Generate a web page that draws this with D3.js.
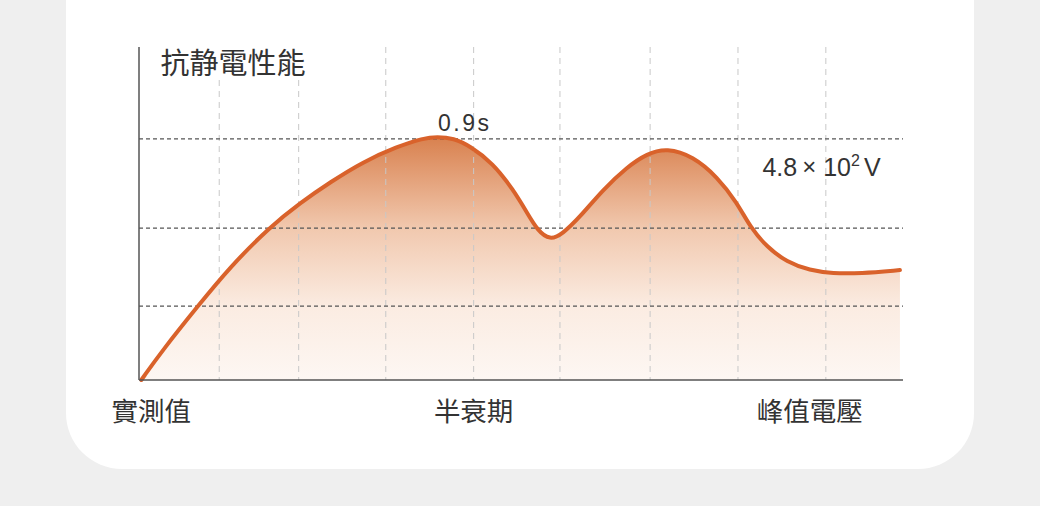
<!DOCTYPE html>
<html>
<head>
<meta charset="utf-8">
<script src="https://cdn.jsdelivr.net/npm/d3@7/dist/d3.min.js"></script>
<style>
  html, body { margin: 0; padding: 0; background: #efefef; }
  svg { display: block; }
  text { font-family: "Noto Sans CJK TC", "Noto Sans", sans-serif; fill: #333; }
  .num { font-family: "Liberation Sans", Arial, sans-serif; fill: #333; }
</style>
</head>
<body>
<div id="chart"></div>
<script>
var width = 1040, height = 506;

// curve (x: 0-100 along the axis, y: 0-100 up the axis)
var curveX = [0.3, 3.1, 7.6, 11.9, 17.1, 21.1, 25.1, 29.3, 33.8, 37.2, 39.0, 41.2, 43.3, 46.3, 49.0, 50.8, 52.2, 53.8,
              55.4, 57.7, 60.7, 63.9, 66.5, 69.1, 72.5, 75.7, 78.3, 80.0, 82.2, 84.8, 87.8, 90.8, 94.4, 99.6];
var curveY = [0, 9.0, 21.9, 33.9, 45.9, 53.2, 59.5, 65.5, 70.1, 72.6, 73.1, 72.6, 70.3, 65.2, 57.1, 50.2, 44.8, 42.0,
              43.8, 48.9, 57.1, 64.0, 68.0, 69.7, 67.2, 61.0, 53.2, 45.9, 39.9, 35.4, 32.9, 32.0, 32.0, 33.0];

// grid lines
var gridX = [10.5, 20.9, 32.3, 43.8, 55.1, 66.9, 78.4, 89.9];
var gridY = [22.2, 45.6, 72.4];

// labels
var title = "抗静電性能";
var bottomLabels = ["實測值", "半衰期", "峰值電壓"];
var bottomLabelX = [1.6, 43.8, 87.8];
var peakLabel = "0.9s";
var peakX = 39.0;
var voltLabel = ["4.8", "×", "10", "2", "V"];

var margin = {left: 139, right: 137, top: 47, bottom: 126};

var svg = d3.select('#chart').append('svg')
    .attr('width', width)
    .attr('height', height);

// white card
svg.append("rect")
    .attr("x", 66).attr("y", -60)
    .attr("width", 908).attr("height", 529)
    .attr("rx", 56).attr("ry", 56)
    .attr("fill", "#fff");

var x = d3.scaleLinear().domain([0, 100]).range([margin.left, width - margin.right]);
var y = d3.scaleLinear().domain([0, 100]).range([height - margin.bottom, margin.top]);

var defs = svg.append("defs");
var grad = defs.append("linearGradient")
    .attr("id", "fillGrad")
    .attr("gradientUnits", "userSpaceOnUse")
    .attr("x1", 0).attr("y1", y(72.5))
    .attr("x2", 0).attr("y2", y(0));
grad.append("stop").attr("offset", 0).attr("stop-color", "#d98250");
grad.append("stop").attr("offset", 0.37).attr("stop-color", "#f1c8ae");
grad.append("stop").attr("offset", 0.7).attr("stop-color", "#fbece2");
grad.append("stop").attr("offset", 1).attr("stop-color", "#fdf7f3");

var pts = curveX.map(function(d, i) { return [d, curveY[i]]; });
var crv = d3.curveBasis;

// area fill
svg.append("path")
    .datum(pts)
    .attr("fill", "url(#fillGrad)")
    .attr("d", d3.area()
        .x(function(d) { return x(d[0]); })
        .y0(y(0))
        .y1(function(d) { return y(d[1]); })
        .curve(crv));

// vertical dashed grid
svg.append("g").selectAll("line")
    .data(gridX)
    .enter().append("line")
      .attr("x1", function(d) { return x(d); })
      .attr("x2", function(d) { return x(d); })
      .attr("y1", y(100))
      .attr("y2", y(0))
      .attr("stroke", "#c8c8c8")
      .attr("stroke-width", 1)
      .attr("stroke-dasharray", "6,5");

// horizontal dashed grid
svg.append("g").selectAll("line")
    .data(gridY)
    .enter().append("line")
      .attr("x1", x(0))
      .attr("x2", x(100))
      .attr("y1", function(d) { return y(d); })
      .attr("y2", function(d) { return y(d); })
      .attr("stroke", "#555")
      .attr("stroke-width", 1.2)
      .attr("stroke-dasharray", "4,3");

// title with white backing so grid stops under it
svg.append("rect")
    .attr("x", x(1.5)).attr("y", y(100))
    .attr("width", 170).attr("height", 33)
    .attr("fill", "#fff");
svg.append("text")
    .attr("x", x(2.8))
    .attr("y", 74)
    .attr("font-size", 29)
    .text(title);

// the curve
svg.append("path")
    .datum(pts)
    .attr("fill", "none")
    .attr("stroke", "#d9622b")
    .attr("stroke-width", 4)
    .attr("stroke-linecap", "round")
    .attr("d", d3.line()
        .x(function(d) { return x(d[0]); })
        .y(function(d) { return y(d[1]); })
        .curve(crv));

// axes
svg.append("line")
    .attr("x1", x(0)).attr("x2", x(0))
    .attr("y1", y(100)).attr("y2", y(0))
    .attr("stroke", "#555").attr("stroke-width", 1.5);
svg.append("line")
    .attr("x1", x(0)).attr("x2", x(100))
    .attr("y1", y(0)).attr("y2", y(0))
    .attr("stroke", "#555").attr("stroke-width", 1.5);

// bottom labels
svg.append("g").selectAll("text")
    .data(bottomLabels)
    .enter().append("text")
      .attr("x", function(d, i) { return x(bottomLabelX[i]); })
      .attr("y", 421)
      .attr("text-anchor", "middle")
      .attr("font-size", 26.5)
      .text(function(d) { return d; });

// peak time label
svg.append("text")
    .attr("class", "num")
    .attr("x", x(peakX) + 1)
    .attr("y", 131)
    .attr("font-size", 23)
    .attr("letter-spacing", 2.5)
    .text(peakLabel);

// voltage label
var vt = svg.append("text")
    .attr("class", "num")
    .attr("x", x(81.6))
    .attr("y", 176)
    .attr("font-size", 25);
vt.append("tspan").text(voltLabel[0]);
vt.append("tspan").attr("dx", 5).attr("font-size", 24).attr("dy", -1).text(voltLabel[1]);
vt.append("tspan").attr("dx", 7).attr("dy", 1).text(voltLabel[2]);
vt.append("tspan").attr("font-size", 16).attr("dy", -10).text(voltLabel[3]);
vt.append("tspan").attr("dx", 4).attr("dy", 10).text(voltLabel[4]);
</script>
</body>
</html>
